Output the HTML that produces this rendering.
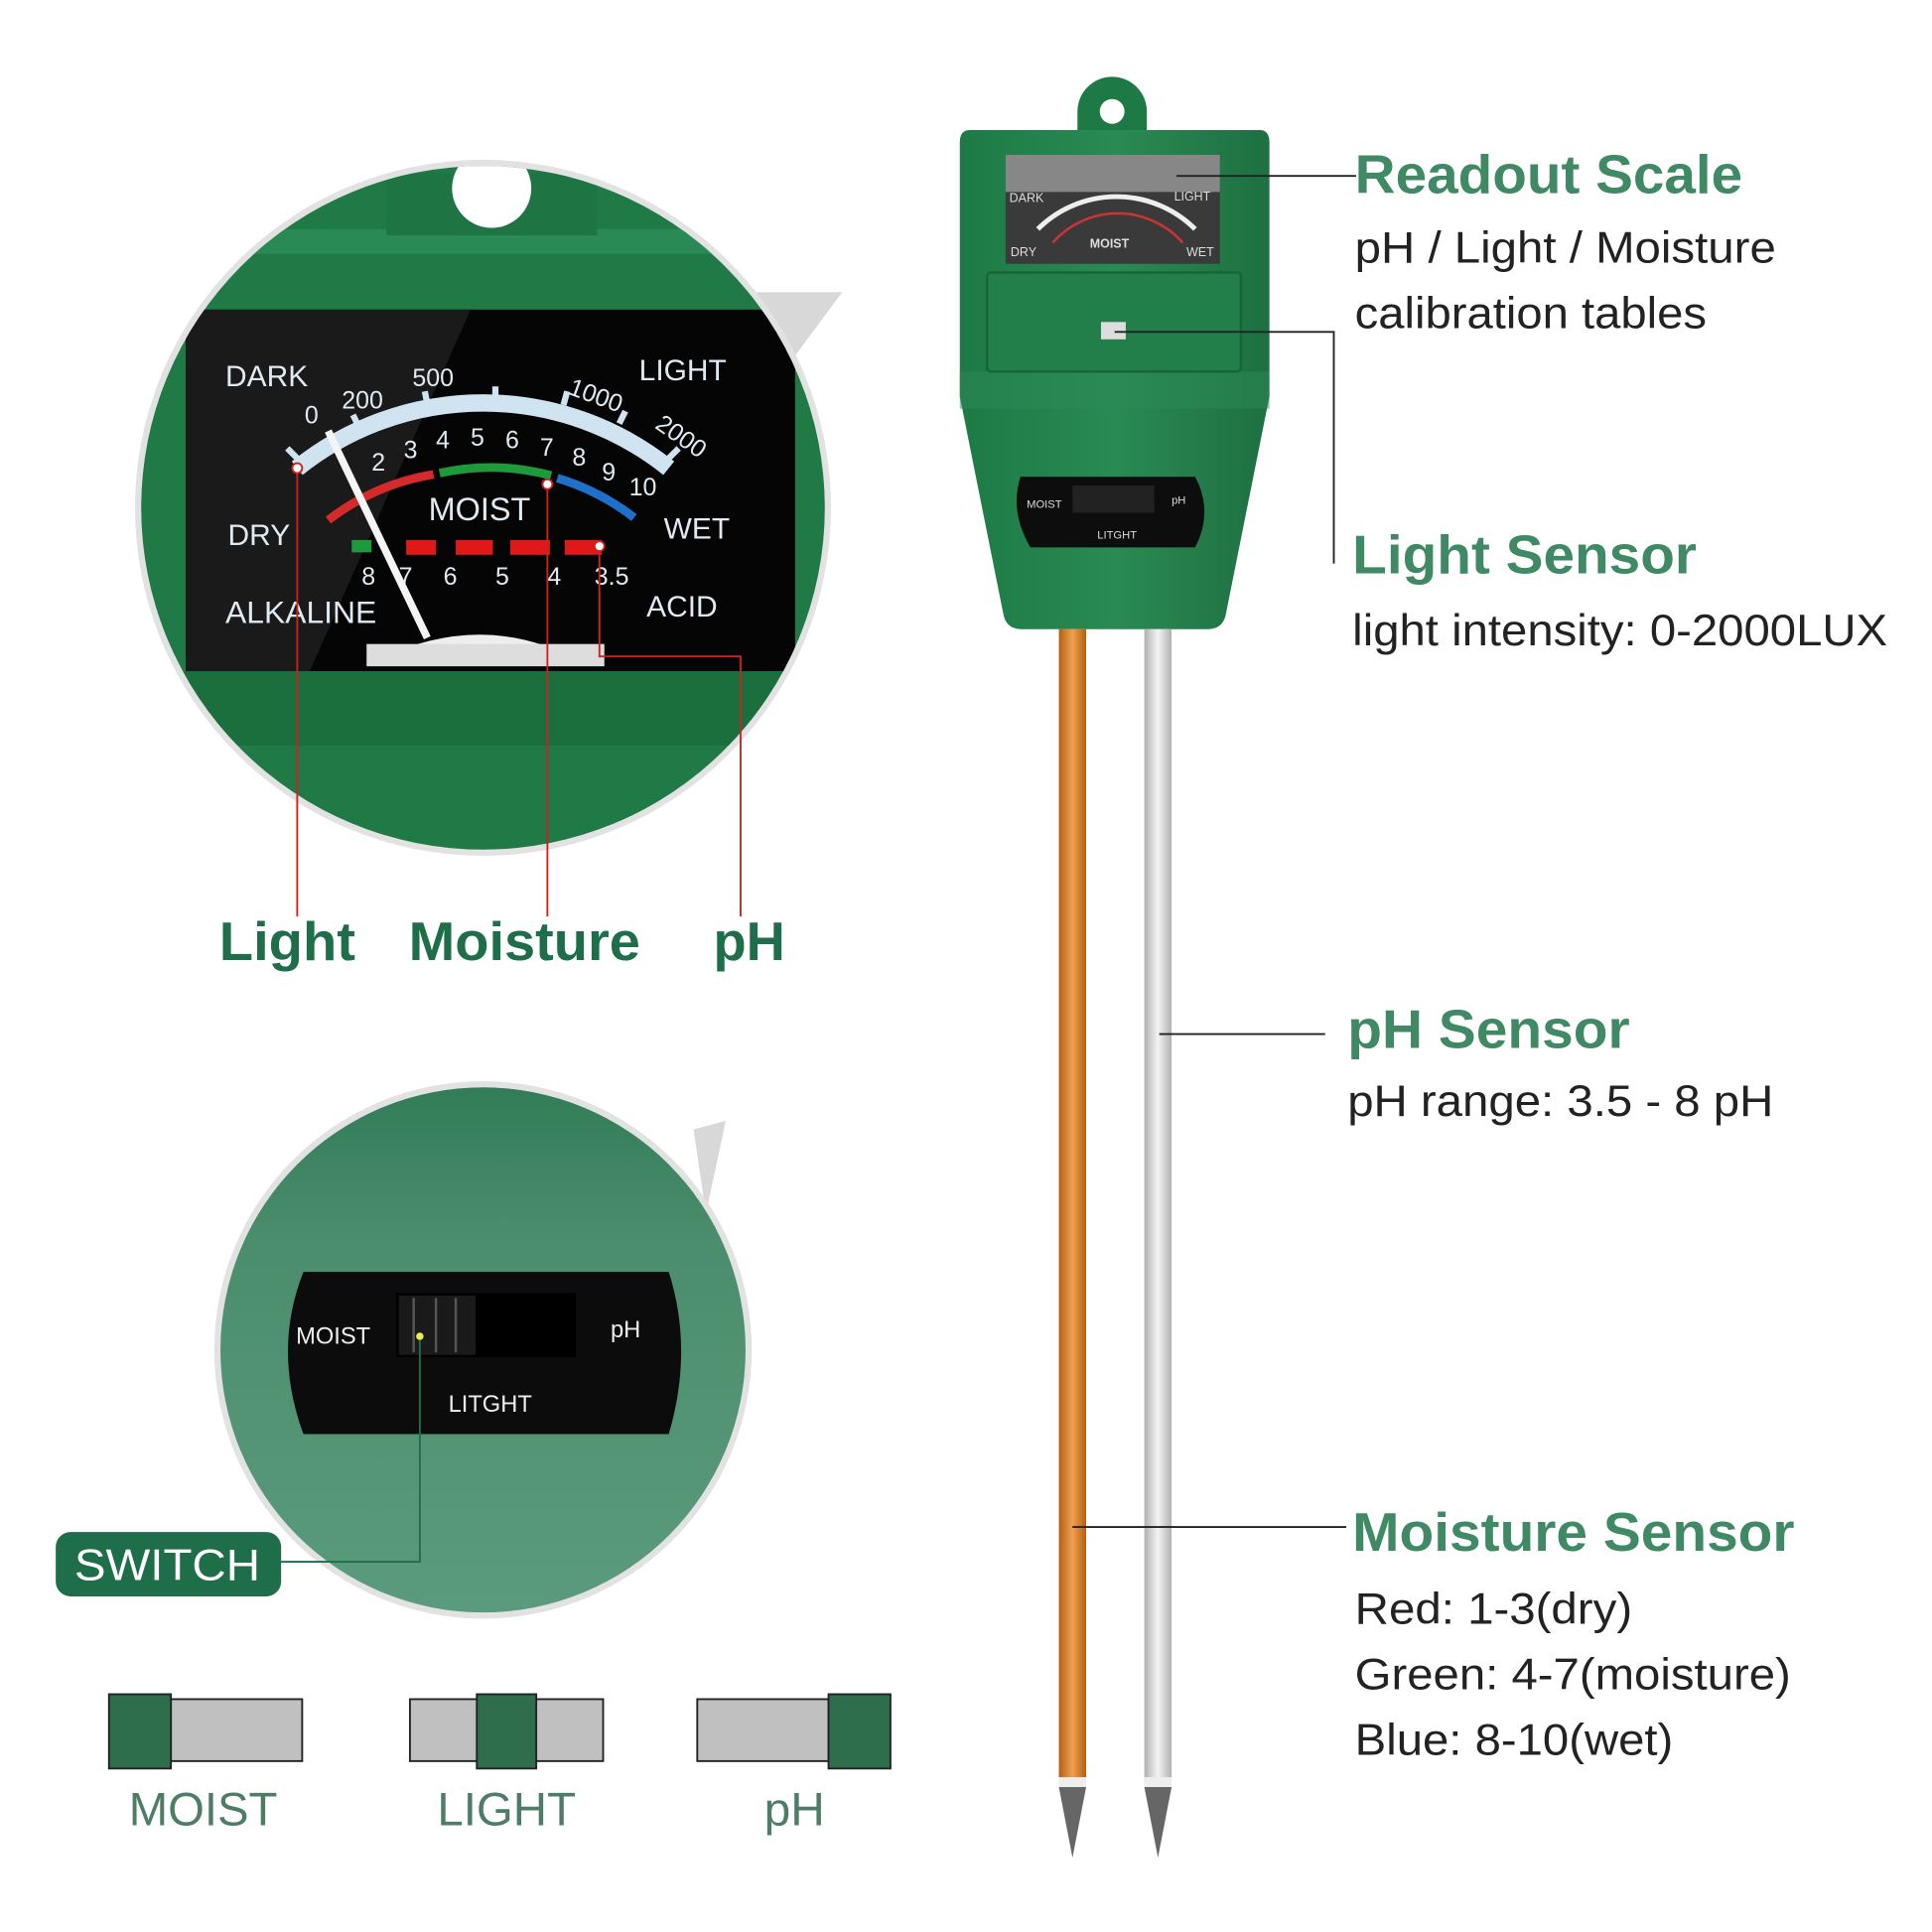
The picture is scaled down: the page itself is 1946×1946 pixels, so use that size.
<!DOCTYPE html>
<html><head><meta charset="utf-8"><style>
html,body{margin:0;padding:0;background:#fff}
svg{display:block}
text{font-family:"Liberation Sans",sans-serif}
</style></head><body>
<svg width="1946" height="1946" viewBox="0 0 1560 1560" xmlns="http://www.w3.org/2000/svg">
<defs>
<clipPath id="c1"><circle cx="390" cy="410" r="276"/></clipPath>
<clipPath id="c2"><circle cx="390" cy="1090" r="212"/></clipPath>
<linearGradient id="g2" x1="0" y1="0" x2="0" y2="1"><stop offset="0" stop-color="#2e7a55"/><stop offset="0.3" stop-color="#4a8d6c"/><stop offset="1" stop-color="#5c9c7e"/></linearGradient>
<linearGradient id="gb" x1="0" y1="0" x2="1" y2="0"><stop offset="0" stop-color="#1d7a45"/><stop offset="0.5" stop-color="#2a8a53"/><stop offset="1" stop-color="#1d7040"/></linearGradient>
<linearGradient id="go" x1="0" y1="0" x2="1" y2="0"><stop offset="0" stop-color="#b35f10"/><stop offset="0.5" stop-color="#f0a050"/><stop offset="1" stop-color="#b06010"/></linearGradient>
<linearGradient id="gs" x1="0" y1="0" x2="1" y2="0"><stop offset="0" stop-color="#b0b0b0"/><stop offset="0.5" stop-color="#f4f4f4"/><stop offset="1" stop-color="#b0b0b0"/></linearGradient>
</defs>

<polygon points="600,236 680,236 640,290" fill="#d8d8d8"/>
<circle cx="390" cy="410" r="281" fill="#e2e2e2"/>
<g clip-path="url(#c1)">
<rect x="100" y="120" width="600" height="600" fill="#1f7a45"/>
<rect x="100" y="185" width="600" height="20" fill="#2a8a55"/>
<rect x="312" y="140" width="170" height="50" fill="#1e7442"/>
<circle cx="397" cy="152" r="32" fill="#fff"/>
<rect x="150" y="250" width="492" height="292" fill="#050505"/>
<polygon points="150,250 380,250 250,542 150,542" fill="#1a1a1a"/>
<rect x="100" y="542" width="600" height="60" fill="#1b6f3d"/>
<path d="M240,378 A240,240 0 0 1 540,378" fill="none" stroke="#cfe3f0" stroke-width="14"/>
<g stroke="#cfe3f0" stroke-width="5">
<line x1="240" y1="370" x2="232" y2="362"/><line x1="290" y1="345" x2="285" y2="335"/><line x1="345" y1="326" x2="343" y2="316"/><line x1="400" y1="322" x2="400" y2="312"/><line x1="455" y1="327" x2="458" y2="316"/><line x1="500" y1="342" x2="505" y2="332"/><line x1="540" y1="370" x2="548" y2="362"/>
</g>
<path d="M265,420 A190,190 0 0 1 350,383" fill="none" stroke="#d42a2a" stroke-width="7"/>
<path d="M355,382 A190,190 0 0 1 445,384" fill="none" stroke="#1f9a3a" stroke-width="7"/>
<path d="M450,386 A190,190 0 0 1 512,418" fill="none" stroke="#1e70c8" stroke-width="7"/>
<g fill="#e01818"><rect x="328" y="436" width="24" height="12"/><rect x="368" y="436" width="30" height="12"/><rect x="412" y="436" width="32" height="12"/><rect x="456" y="436" width="30" height="12"/></g>
<rect x="284" y="436" width="16" height="10" fill="#1f9a3a"/>
<g fill="#dfeaf2" font-size="24">
<text x="182" y="312">DARK</text><text x="516" y="307">LIGHT</text>
<text x="184" y="440">DRY</text><text x="536" y="435">WET</text>
<text x="182" y="503" font-size="25" textLength="122" lengthAdjust="spacingAndGlyphs">ALKALINE</text><text x="522" y="498">ACID</text>
<text x="346" y="420" font-size="26">MOIST</text>
<text x="246" y="342" font-size="20">0</text><text x="276" y="330" font-size="20">200</text><text x="333" y="312" font-size="20">500</text>
<text x="458" y="318" font-size="20" transform="rotate(20 458 318)">1000</text><text x="528" y="345" font-size="20" transform="rotate(35 528 345)">2000</text>
<text x="300" y="380" font-size="20">2</text><text x="326" y="370" font-size="20">3</text><text x="352" y="362" font-size="20">4</text><text x="380" y="360" font-size="20">5</text><text x="408" y="362" font-size="20">6</text><text x="436" y="368" font-size="20">7</text><text x="462" y="376" font-size="20">8</text><text x="486" y="388" font-size="20">9</text><text x="508" y="400" font-size="20">10</text>
<text x="292" y="472" font-size="20">8</text><text x="322" y="472" font-size="20">7</text><text x="358" y="472" font-size="20">6</text><text x="400" y="472" font-size="20">5</text><text x="442" y="472" font-size="20">4</text><text x="480" y="472" font-size="20">3.5</text>
</g>
<line x1="345" y1="515" x2="265" y2="348" stroke="#f4f4f4" stroke-width="6"/>
<path d="M300,535 Q390,490 470,535 Z" fill="#eee"/>
<rect x="296" y="520" width="192" height="18" fill="#ddd"/>
<g fill="none" stroke="#c22" stroke-width="1.5"><circle cx="240" cy="378" r="4" fill="#fff"/><circle cx="442" cy="391" r="4" fill="#fff"/><circle cx="484" cy="441" r="4" fill="#fff"/></g>
</g>
<g stroke="#c22" stroke-width="1.5" fill="none">
<line x1="240" y1="382" x2="240" y2="740"/><line x1="442" y1="395" x2="442" y2="740"/>
<polyline points="484,445 484,530 598,530 598,740"/>
</g>
<g fill="#1e6e4a" font-weight="bold" font-size="44">
<text x="177" y="775" textLength="110" lengthAdjust="spacingAndGlyphs">Light</text><text x="330" y="775" textLength="187" lengthAdjust="spacingAndGlyphs">Moisture</text><text x="576" y="775" textLength="58" lengthAdjust="spacingAndGlyphs">pH</text>
</g>

<polygon points="560,912 586,905 570,980" fill="#d8d8d8"/>
<circle cx="390" cy="1090" r="217" fill="#e2e2e2"/>
<g clip-path="url(#c2)">
<rect x="150" y="860" width="500" height="460" fill="url(#g2)"/>
<path d="M245,1027 L540,1027 Q560,1090 540,1158 L245,1158 Q220,1090 245,1027Z" fill="#0c0c0c"/>
<rect x="320" y="1044" width="145" height="52" fill="#000"/>
<rect x="322" y="1046" width="62" height="48" fill="#1a1a1a"/>
<g stroke="#555" stroke-width="2"><line x1="334" y1="1048" x2="334" y2="1092"/><line x1="352" y1="1048" x2="352" y2="1092"/><line x1="368" y1="1048" x2="368" y2="1092"/></g>
<circle cx="339" cy="1079" r="3" fill="#ee4"/>
<g fill="#eee" font-size="19"><text x="239" y="1085">MOIST</text><text x="493" y="1080">pH</text><text x="362" y="1140">LITGHT</text></g>
</g>
<polyline points="339,1082 339,1261 226,1261" fill="none" stroke="#1e6e4a" stroke-width="1.5"/>
<rect x="45" y="1237" width="182" height="52" rx="12" fill="#1e6e4a"/>
<text x="60" y="1276" fill="#fff" font-size="36" textLength="150" lengthAdjust="spacingAndGlyphs">SWITCH</text>

<g stroke="#222" stroke-width="1.5">
<rect x="138" y="1372" width="106" height="50" fill="#c0c0c0"/><rect x="88" y="1368" width="50" height="60" fill="#2e6e4c"/>
<rect x="331" y="1372" width="156" height="50" fill="#c0c0c0"/><rect x="385" y="1368" width="48" height="60" fill="#2e6e4c"/>
<rect x="563" y="1372" width="106" height="50" fill="#c0c0c0"/><rect x="669" y="1368" width="50" height="60" fill="#2e6e4c"/>
</g>
<g fill="#4d7d66" font-size="38"><text x="104" y="1474" textLength="120" lengthAdjust="spacingAndGlyphs">MOIST</text><text x="353" y="1474" textLength="112" lengthAdjust="spacingAndGlyphs">LIGHT</text><text x="617" y="1474" textLength="49" lengthAdjust="spacingAndGlyphs">pH</text></g>

<path d="M870,105 L870,90 A28,28 0 0 1 926,90 L926,105Z" fill="#1e7a45"/>
<circle cx="898" cy="90" r="10" fill="#fff"/>
<path d="M783,105 L1017,105 Q1025,105 1025,115 L1025,320 L990,495 Q988,508 975,508 L825,508 Q812,508 810,495 L775,320 L775,115 Q775,105 783,105Z" fill="url(#gb)"/>
<rect x="775" y="300" width="250" height="30" fill="#2b8a55" opacity="0.5"/>
<rect x="812" y="125" width="173" height="88" fill="#3a3a3a"/>
<rect x="812" y="125" width="173" height="30" fill="#bbb" opacity="0.6"/>
<path d="M838,185 A90,90 0 0 1 965,185" fill="none" stroke="#eee" stroke-width="4"/>
<path d="M850,196 A70,70 0 0 1 955,196" fill="none" stroke="#c33" stroke-width="2"/>
<g fill="#ddd" font-size="10"><text x="815" y="163">DARK</text><text x="948" y="162">LIGHT</text><text x="816" y="207">DRY</text><text x="958" y="207">WET</text><text x="880" y="200" font-weight="bold">MOIST</text></g>
<rect x="797" y="220" width="205" height="80" rx="3" fill="#237f4a" stroke="#176636" stroke-width="2"/>
<rect x="889" y="260" width="20" height="14" fill="#ddd"/>
<path d="M824,385 L965,385 Q980,413 965,442 L832,442 Q815,413 824,385Z" fill="#0d0d0d"/>
<rect x="866" y="392" width="66" height="22" fill="#222"/>
<g fill="#ddd" font-size="9"><text x="829" y="410">MOIST</text><text x="946" y="407">pH</text><text x="886" y="435">LITGHT</text></g>
<rect x="855" y="508" width="22" height="932" fill="url(#go)"/>
<rect x="924" y="508" width="22" height="932" fill="url(#gs)"/>
<rect x="855" y="1435" width="22" height="8" fill="#eee"/><rect x="924" y="1435" width="22" height="8" fill="#eee"/>
<path d="M855,1443 L877,1443 L866,1500Z" fill="#666"/><path d="M924,1443 L946,1443 L935,1500Z" fill="#666"/>

<g stroke="#222" stroke-width="1.5" fill="none">
<line x1="950" y1="142" x2="1095" y2="142"/>
<polyline points="900,268 1077,268 1077,455"/>
<line x1="936" y1="835" x2="1070" y2="835"/>
<line x1="866" y1="1233" x2="1087" y2="1233"/>
</g>
<g fill="#3f8a64" font-weight="bold" font-size="44">
<text x="1094" y="156" textLength="313" lengthAdjust="spacingAndGlyphs">Readout Scale</text>
<text x="1092" y="463" textLength="278" lengthAdjust="spacingAndGlyphs">Light Sensor</text>
<text x="1088" y="846" textLength="228" lengthAdjust="spacingAndGlyphs">pH Sensor</text>
<text x="1092" y="1252" textLength="357" lengthAdjust="spacingAndGlyphs">Moisture Sensor</text>
</g>
<g fill="#222" font-size="36">
<text x="1094" y="212" textLength="340" lengthAdjust="spacingAndGlyphs">pH / Light / Moisture</text>
<text x="1094" y="265" textLength="284" lengthAdjust="spacingAndGlyphs">calibration tables</text>
<text x="1092" y="521" textLength="432" lengthAdjust="spacingAndGlyphs">light intensity: 0-2000LUX</text>
<text x="1088" y="901" textLength="344" lengthAdjust="spacingAndGlyphs">pH range: 3.5 - 8 pH</text>
<text x="1094" y="1311" textLength="224" lengthAdjust="spacingAndGlyphs">Red: 1-3(dry)</text>
<text x="1094" y="1364" textLength="352" lengthAdjust="spacingAndGlyphs">Green: 4-7(moisture)</text>
<text x="1094" y="1417" textLength="257" lengthAdjust="spacingAndGlyphs">Blue: 8-10(wet)</text>
</g>
</svg>
</body></html>
